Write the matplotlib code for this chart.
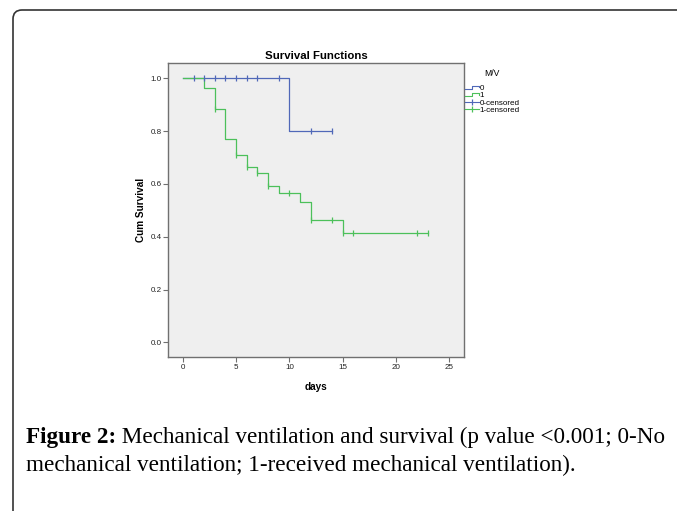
import matplotlib
matplotlib.use("Agg")
import matplotlib.pyplot as plt
from matplotlib.lines import Line2D
from matplotlib.patches import FancyBboxPatch
from matplotlib.legend_handler import HandlerBase

# Kaplan-Meier steps
t0 = [0, 10, 14]
s0 = [1.0, 0.8, 0.8]
cens_t0 = [1, 2, 3, 4, 5, 6, 7, 9, 12, 14]
cens_s0 = [1.0, 1.0, 1.0, 1.0, 1.0, 1.0, 1.0, 1.0, 0.8, 0.8]

t1 = [0, 2, 3, 4, 5, 6, 7, 8, 9, 11, 12, 15, 23]
s1 = [1.0, 0.962, 0.884, 0.770, 0.708, 0.665, 0.641, 0.592, 0.565, 0.532, 0.464, 0.414, 0.414]
cens_t1 = [3, 5, 6, 7, 8, 10, 12, 14, 15, 16, 22, 23]
cens_s1 = [0.884, 0.708, 0.665, 0.641, 0.592, 0.565, 0.464, 0.464, 0.414, 0.414, 0.414, 0.414]

legend_labels = ["0", "1", "0-censored", "1-censored"]
caption_bold = "Figure 2:"
caption_rest = " Mechanical ventilation and survival (p value <0.001; 0-No"
caption_line2 = "mechanical ventilation; 1-received mechanical ventilation)."

blue = "#5068B8"
green = "#4CC05A"
frame_col = "#707070"

plt.rcParams["font.family"] = ["Liberation Sans", "DejaVu Sans"]


class StepHandler(HandlerBase):
    def create_artists(self, legend, orig_handle, xdescent, ydescent,
                       width, height, fontsize, trans):
        lo = -ydescent + height * 0.2
        hi = -ydescent + height * 0.75
        xs = [-xdescent, -xdescent + width * 0.5, -xdescent + width * 0.5,
              -xdescent + width, -xdescent + width]
        ys = [lo, lo, hi, hi, (lo + hi) / 2]
        ln = Line2D(xs, ys, color=orig_handle.get_color(), lw=0.8, transform=trans)
        return [ln]


fig = plt.figure(figsize=(6.77, 5.11), dpi=100)
ax = fig.add_axes([168 / 677, 1 - 357 / 511, 296 / 677, 294 / 511])
ax.set_facecolor("#EFEFEF")

l0, = ax.step(t0, s0, where="post", color=blue, lw=0.9)
l1, = ax.step(t1, s1, where="post", color=green, lw=0.9)
c0, = ax.plot(cens_t0, cens_s0, ls="none", marker="|", ms=4.5, mew=0.9, color=blue)
c1, = ax.plot(cens_t1, cens_s1, ls="none", marker="|", ms=4.5, mew=0.9, color=green)

ax.set_xlim(-1.4, 26.4)
ax.set_ylim(-0.055, 1.058)
ax.set_xticks([0, 5, 10, 15, 20, 25])
ax.set_yticks([0.0, 0.2, 0.4, 0.6, 0.8, 1.0])
ax.set_yticklabels(["0.0", "0.2", "0.4", "0.6", "0.8", "1.0"])
ax.tick_params(labelsize=5.8, length=3.5, width=0.8, color=frame_col, pad=1.2,
               labelcolor="#222222")
for sp in ax.spines.values():
    sp.set_color(frame_col)
    sp.set_linewidth(1.0)

ax.set_title("Survival Functions", fontsize=8.2, fontweight="bold", pad=3)
ax.set_xlabel("days", fontsize=7.2, fontweight="bold", labelpad=8)
ax.set_ylabel("Cum Survival", fontsize=7.2, fontweight="bold", labelpad=3)

lc0 = Line2D([], [], color=blue, lw=0.8, marker="|", ms=5, mew=0.9)
lc1 = Line2D([], [], color=green, lw=0.8, marker="|", ms=5, mew=0.9)
leg = ax.legend([l0, l1, lc0, lc1], legend_labels, title="M/V",
                handler_map={l0: StepHandler(), l1: StepHandler()},
                loc="upper left", bbox_to_anchor=(465 / 677, 1 - 68.5 / 511),
                bbox_transform=fig.transFigure, frameon=False, fontsize=5.8,
                title_fontsize=6.2, handlelength=1.7, handletextpad=0.1,
                labelspacing=-0.05, borderpad=0, borderaxespad=0, numpoints=1)
leg._legend_box.align = "center"
leg._legend_box.sep = 5

# caption
cap_kw = dict(fontsize=16.7, family="Liberation Serif", va="baseline", ha="left")
t = fig.text(26 / 677, 1 - 443 / 511, caption_bold, fontweight="bold", **cap_kw)
fig.text(26 / 677, 1 - 471 / 511, caption_line2, **cap_kw)
ax.annotate(caption_rest, xy=(1, 0), xycoords=t, fontsize=16.7,
            family="Liberation Serif", va="bottom", ha="left",
            annotation_clip=False)

# outer rounded frame
box = FancyBboxPatch((0.13, -0.5), 7.5, 5.51, boxstyle="round,pad=0,rounding_size=0.09",
                     transform=fig.dpi_scale_trans, fill=False, ec="#333333", lw=1.2)
fig.add_artist(box)

fig.savefig("out.png", dpi=100)
